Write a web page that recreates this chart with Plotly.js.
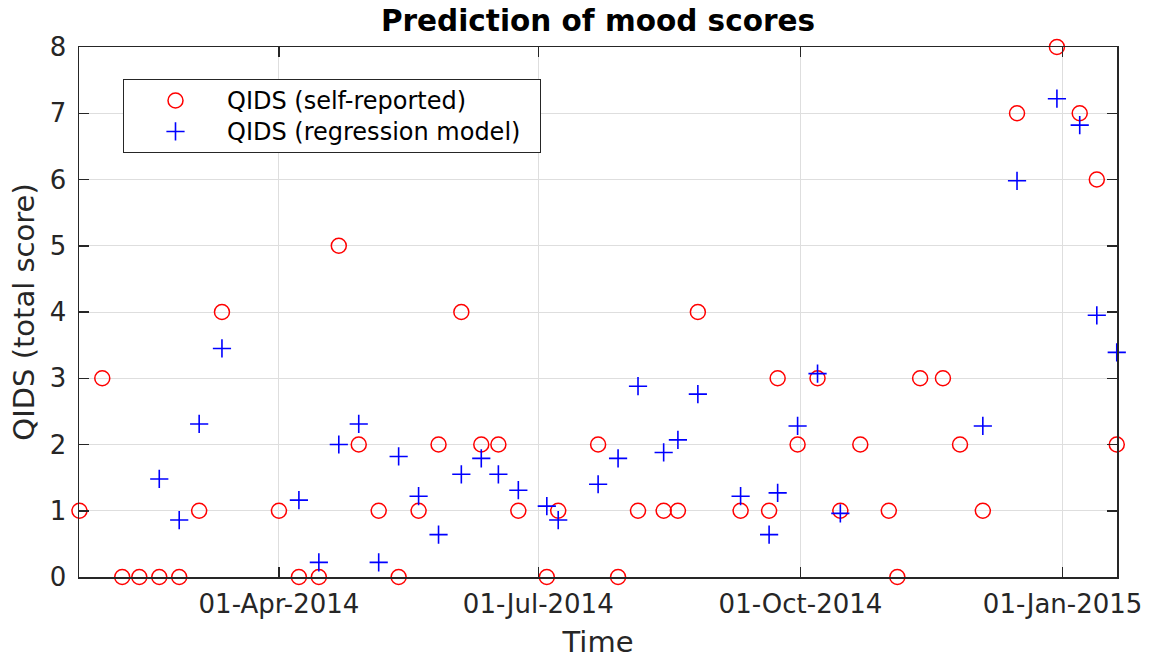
<!DOCTYPE html>
<html>
<head>
<meta charset="utf-8">
<script src="https://cdn.plot.ly/plotly-3.0.1.min.js"></script>
<style>
  html, body { margin: 0; padding: 0; background: #fff; }
  #chart { width: 1151px; height: 659px; }
</style>
</head>
<body>
<div id="chart"></div>
<script>
// Observation dates
const dates = ['2014-01-21','2014-01-29','2014-02-05','2014-02-11','2014-02-18','2014-02-25','2014-03-04','2014-03-12',
  '2014-04-01','2014-04-08','2014-04-15','2014-04-22','2014-04-29','2014-05-06','2014-05-13','2014-05-20','2014-05-27',
  '2014-06-04','2014-06-11','2014-06-17','2014-06-24','2014-07-04','2014-07-08','2014-07-22','2014-07-29','2014-08-05',
  '2014-08-14','2014-08-19','2014-08-26','2014-09-10','2014-09-20','2014-09-23','2014-09-30','2014-10-07','2014-10-15',
  '2014-10-22','2014-11-01','2014-11-04','2014-11-12','2014-11-20','2014-11-26','2014-12-04','2014-12-16','2014-12-30',
  '2015-01-07','2015-01-13','2015-01-20'];

// QIDS self-reported scores
const selfReported = [1,3,0,0,0,0,1,4,
  1,0,0,5,2,1,0,1,2,
  4,2,2,1,0,1,2,0,1,
  1,1,4,1,1,3,2,3,1,
  2,1,0,3,3,2,1,7,8,
  7,6,2];

// QIDS regression model predictions (null = no prediction)
const regression = [null,null,null,null,1.48,0.86,2.31,3.45,
  null,1.16,0.22,2.00,2.31,0.22,1.82,1.22,0.64,
  1.55,1.79,1.55,1.31,1.07,0.86,1.40,1.79,2.88,
  1.88,2.07,2.76,1.22,0.64,1.27,2.28,3.07,0.96,
  null,null,null,null,null,null,2.28,5.98,7.22,
  6.82,3.95,3.39];

const seriesNames = ['QIDS (self-reported)', 'QIDS (regression model)'];
const xTickDates = ['2014-04-01','2014-07-01','2014-10-01','2015-01-01'];
const xRange = ['2014-01-20 20:00','2015-01-20 02:00'];
const yTickVals = [0,1,2,3,4,5,6,7,8];

const FONT = 'DejaVu Sans, sans-serif';
const AX = '#262626';
// larger visible text inside a slightly tighter legend row; trailing nbsp gives right padding
const legendLabel = s => '<span style="font-size:24px">' + s + '</span>\u00a0\u00a0';

const traces = [
  {
    x: dates, y: selfReported, type: 'scatter', mode: 'markers', name: legendLabel(seriesNames[0]),
    cliponaxis: false,
    marker: { symbol: 'circle-open', size: 15, color: '#ff0000', line: { width: 1.5, color: '#ff0000' } }
  },
  {
    x: dates, y: regression, type: 'scatter', mode: 'markers', name: legendLabel(seriesNames[1]),
    cliponaxis: false,
    marker: { symbol: 'cross-thin-open', size: 13, color: '#0000ff', line: { width: 1.6, color: '#0000ff' } }
  }
];

const layout = {
  width: 1151, height: 659,
  margin: { l: 79, r: 34, t: 47, b: 82 },
  paper_bgcolor: '#ffffff', plot_bgcolor: '#ffffff',
  font: { family: FONT, color: AX },
  title: {
    text: '<b>Prediction of mood scores</b>',
    font: { family: FONT, size: 29.5, color: '#000000' },
    x: 0.5, xref: 'paper', xanchor: 'center',
    y: 1 - 21/659, yref: 'container', yanchor: 'middle'
  },
  xaxis: {
    type: 'date', range: xRange,
    tickvals: xTickDates, tickformat: '%d-%b-%Y',
    ticks: 'inside', ticklen: 10, tickwidth: 1.5, tickcolor: AX,
    showline: true, linecolor: AX, linewidth: 1.5, mirror: 'ticks',
    showgrid: true, gridcolor: '#dedede', gridwidth: 1,
    zeroline: false,
    tickfont: { family: FONT, size: 26, color: AX },
    ticklabelstandoff: 3,
    title: { text: 'Time', font: { family: FONT, size: 29, color: AX }, standoff: 17 }
  },
  yaxis: {
    range: [0, 8], tickvals: yTickVals,
    ticks: 'inside', ticklen: 10, tickwidth: 1.5, tickcolor: AX,
    showline: true, linecolor: AX, linewidth: 1.5, mirror: 'ticks',
    showgrid: true, gridcolor: '#dedede', gridwidth: 1,
    zeroline: false,
    tickfont: { family: FONT, size: 26, color: AX },
    ticklabelstandoff: 6,
    title: { text: 'QIDS (total score)', font: { family: FONT, size: 29, color: AX }, standoff: 6 }
  },
  legend: {
    x: (123 - 79) / 1038, y: (577 - 79) / 530, xanchor: 'left', yanchor: 'top',
    bgcolor: '#ffffff', bordercolor: AX, borderwidth: 1,
    font: { family: FONT, size: 21.5, color: '#000000' },
    itemwidth: 93, tracegroupgap: 0
  },
  showlegend: true
};

Plotly.newPlot('chart', traces, layout, { displayModeBar: false, staticPlot: true });
</script>
</body>
</html>
